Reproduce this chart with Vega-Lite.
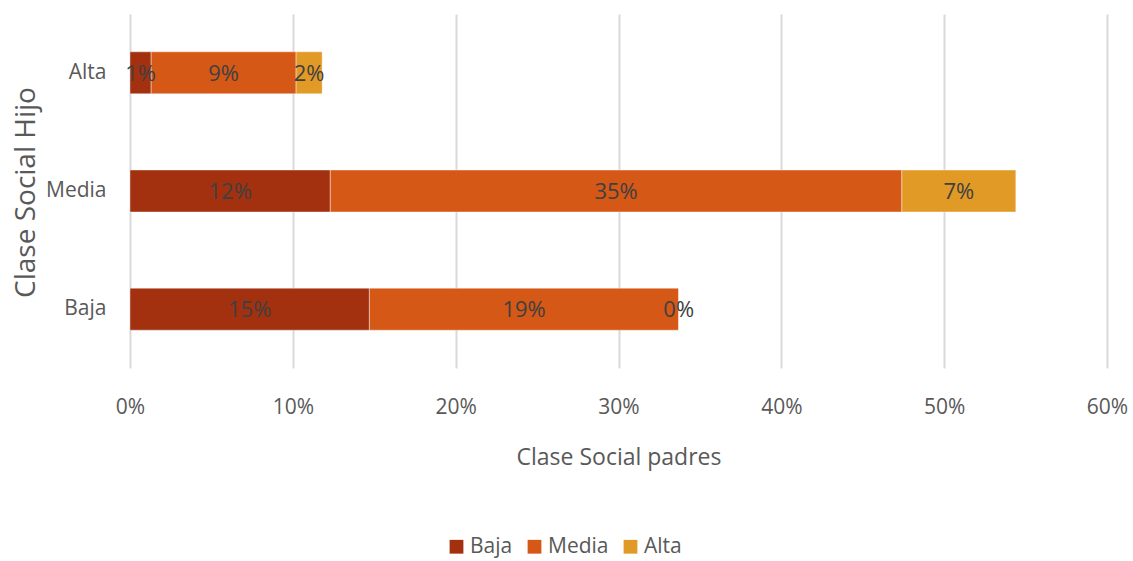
{
  "$schema": "https://vega.github.io/schema/vega-lite/v6.json",
  "width": 977,
  "height": 354,
  "autosize": {"type": "none"},
  "padding": {"left": 130, "top": 14, "right": 26, "bottom": 193},
  "background": "white",
  "config": {
    "view": {"stroke": null},
    "font": "Open Sans, sans-serif"
  },
  "data": {
    "values": [
      {"hijo": "Alta", "padres": "Baja", "ord": 1, "value": 0.013},
      {"hijo": "Alta", "padres": "Media", "ord": 2, "value": 0.089},
      {"hijo": "Alta", "padres": "Alta", "ord": 3, "value": 0.016},
      {"hijo": "Media", "padres": "Baja", "ord": 1, "value": 0.123},
      {"hijo": "Media", "padres": "Media", "ord": 2, "value": 0.351},
      {"hijo": "Media", "padres": "Alta", "ord": 3, "value": 0.070},
      {"hijo": "Baja", "padres": "Baja", "ord": 1, "value": 0.147},
      {"hijo": "Baja", "padres": "Media", "ord": 2, "value": 0.190},
      {"hijo": "Baja", "padres": "Alta", "ord": 3, "value": 0.000}
    ]
  },
  "transform": [
    {"stack": "value", "groupby": ["hijo"], "sort": [{"field": "ord"}], "as": ["x0", "x1"]},
    {"calculate": "(datum.x0 + datum.x1) / 2", "as": "mid"}
  ],
  "encoding": {
    "y": {
      "field": "hijo",
      "type": "nominal",
      "sort": ["Alta", "Media", "Baja"],
      "scale": {"paddingInner": 0.645, "paddingOuter": 0.32},
      "axis": {
        "title": "Clase Social Hijo",
        "titleFont": "Open Sans",
        "titleFontSize": 28,
        "titleFontWeight": "normal",
        "titleColor": "#595959",
        "titleX": -104,
        "titleY": 178,
        "titleAngle": -90,
        "titleAlign": "center",
        "titleBaseline": "middle",
        "labelFontSize": 21,
        "labelColor": "#595959",
        "labelPadding": 24,
        "domain": false,
        "ticks": false,
        "grid": false
      }
    }
  },
  "layer": [
    {
      "mark": {"type": "bar", "stroke": "white", "strokeOpacity": 0.4, "strokeWidth": 1},
      "encoding": {
        "x": {
          "field": "x0",
          "type": "quantitative",
          "scale": {"domain": [0, 0.6], "nice": false},
          "axis": {
            "title": "Clase Social padres",
            "titleFontSize": 23,
            "titleFontWeight": "normal",
            "titleColor": "#595959",
            "titlePadding": 29,
            "format": ".0%",
            "values": [0, 0.1, 0.2, 0.3, 0.4, 0.5, 0.6],
            "labelOverlap": false,
            "labelFlush": false,
            "labelFontSize": 21,
            "labelColor": "#595959",
            "labelPadding": 28,
            "domain": false,
            "ticks": false,
            "gridColor": "#d9d9d9",
            "gridWidth": 2
          }
        },
        "x2": {"field": "x1"},
        "color": {
          "field": "padres",
          "type": "nominal",
          "sort": ["Baja", "Media", "Alta"],
          "scale": {"domain": ["Baja", "Media", "Alta"], "range": ["#A3300F", "#D55817", "#E29A27"]},
          "legend": {
            "title": null,
            "orient": "none",
            "direction": "horizontal",
            "legendX": 316,
            "legendY": 522,
            "symbolType": "square",
            "symbolSize": 190,
            "symbolStrokeWidth": 0,
            "labelFontSize": 21,
            "labelColor": "#595959",
            "labelOffset": 3,
            "columnPadding": 11
          }
        }
      }
    },
    {
      "mark": {"type": "text", "fontSize": 22, "color": "#404040", "align": "center", "baseline": "middle", "dy": 1},
      "encoding": {
        "x": {"field": "mid", "type": "quantitative"},
        "text": {"field": "value", "type": "quantitative", "format": ".0%"}
      }
    }
  ]
}
